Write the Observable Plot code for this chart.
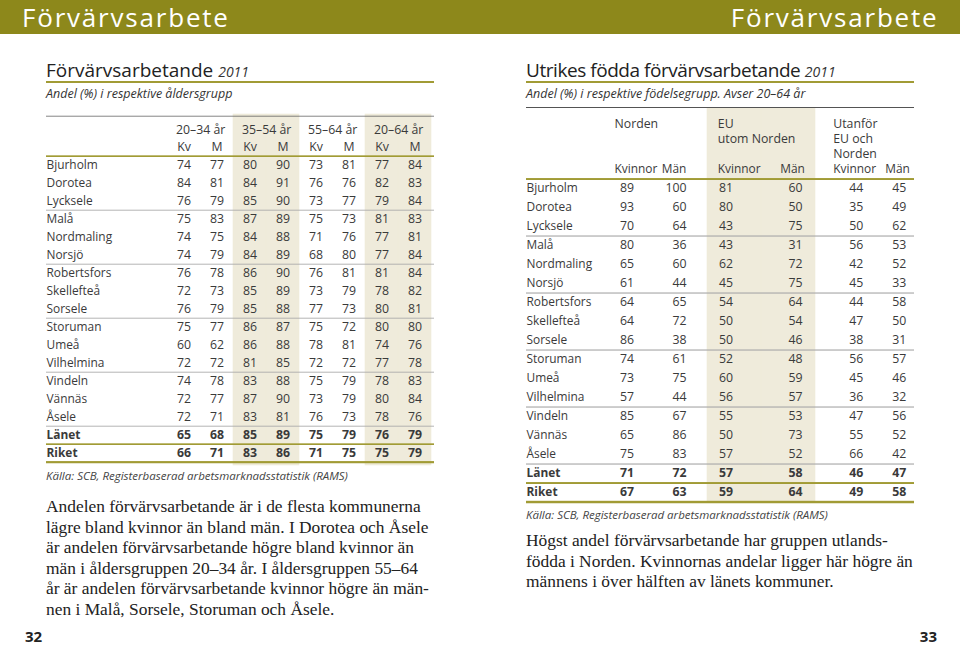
<!DOCTYPE html>
<html lang="sv">
<head>
<meta charset="utf-8">
<script src="https://cdn.jsdelivr.net/npm/d3@7"></script>
<script src="https://cdn.jsdelivr.net/npm/@observablehq/plot@0.6"></script>
<style>
html,body{margin:0;padding:0;background:#fff;}
#page{position:relative;width:960px;height:645px;overflow:hidden;font-family:"Open Sans",sans-serif;color:#333;}
.abs{position:absolute;white-space:nowrap;}
#band{left:0;top:0;width:960px;height:34px;background:#8d881b;}
.bandtitle{color:#fff;font-size:26px;letter-spacing:1.8px;line-height:30px;top:1.5px;}
.title{font-size:19px;color:#222;top:56.5px;line-height:normal;}
.title i{font-size:14px;color:#333;letter-spacing:0;}
.rule{height:2px;background:#a19b35;top:81px;}
.sub{font-style:italic;font-size:12.5px;top:84.5px;color:#333;line-height:normal;}
.src{font-style:italic;font-size:11.5px;color:#444;line-height:normal;}
.para{font-family:"Liberation Serif",serif;font-size:17.4px;line-height:20.5px;color:#222;}
.pnum{font-weight:bold;font-size:15px;color:#222;line-height:normal;top:626px;}
</style>
</head>
<body>
<div id="page">
  <div id="band" class="abs"></div>
  <div class="abs bandtitle" style="left:22px">Förvärvsarbete</div>
  <div class="abs bandtitle" style="right:21.5px">Förvärvsarbete</div>

  <div class="abs title" style="left:46px">Förvärvsarbetande <i>2011</i></div>
  <div class="abs rule" style="left:46px;width:388px"></div>
  <div class="abs sub" style="left:46px">Andel (%) i respektive åldersgrupp</div>

  <div class="abs title" style="left:526px;letter-spacing:-0.45px">Utrikes födda förvärvsarbetande <i>2011</i></div>
  <div class="abs rule" style="left:526px;width:388px"></div>
  <div class="abs sub" style="left:526px">Andel (%) i respektive födelsegrupp. Avser 20–64 år</div>

  <div id="tblL" class="abs" style="left:46px;top:105px"></div>
  <div id="tblR" class="abs" style="left:526px;top:100px"></div>

  <div class="abs src" style="left:46px;top:467.5px">Källa: SCB, Registerbaserad arbetsmarknadsstatistik (RAMS)</div>
  <div class="abs src" style="left:526px;top:506.5px">Källa: SCB, Registerbaserad arbetsmarknadsstatistik (RAMS)</div>

  <div class="abs para" style="left:46px;top:496px">Andelen förvärvsarbetande är i de flesta kommunerna<br>lägre bland kvinnor än bland män. I Dorotea och Åsele<br>är andelen förvärvsarbetande högre bland kvinnor än<br>män i åldersgruppen 20–34 år. I åldersgruppen 55–64<br>år är andelen förvärvsarbetande kvinnor högre än män-<br>nen i Malå, Sorsele, Storuman och Åsele.</div>
  <div class="abs para" style="left:526px;top:530px">Högst andel förvärvsarbetande har gruppen utlands-<br>födda i Norden. Kvinnornas andelar ligger här högre än<br>männens i över hälften av länets kommuner.</div>

  <div class="abs pnum" style="left:25px">32</div>
  <div class="abs pnum" style="right:23px">33</div>
</div>
<script>
// ---------- data ----------
const kommuner = ["Bjurholm","Dorotea","Lycksele","Malå","Nordmaling","Norsjö","Robertsfors","Skellefteå","Sorsele","Storuman","Umeå","Vilhelmina","Vindeln","Vännäs","Åsele","Länet","Riket"];
const totalRows = ["Länet","Riket"];
const separatorRows = ["Lycksele","Norsjö","Sorsele","Vilhelmina","Åsele"];

// Left table: Förvärvsarbetande 2011
const ageGroups = ["20–34 år","35–54 år","55–64 år","20–64 år"];
const ageSexLabels = ["Kv","M"];
const age2034Kv = [74,84,76,75,74,74,76,72,76,75,60,72,74,72,72,65,66];
const age2034M  = [77,81,79,83,75,79,78,73,79,77,62,72,78,77,71,68,71];
const age3554Kv = [80,84,85,87,84,84,86,85,85,86,86,81,83,87,83,85,83];
const age3554M  = [90,91,90,89,88,89,90,89,88,87,88,85,88,90,81,89,86];
const age5564Kv = [73,76,73,75,71,68,76,73,77,75,78,72,75,73,76,75,71];
const age5564M  = [81,76,77,73,76,80,81,79,73,72,81,72,79,79,73,79,75];
const age2064Kv = [77,82,79,81,77,77,81,78,80,80,74,77,78,80,78,76,75];
const age2064M  = [84,83,84,83,81,84,84,82,81,80,76,78,83,84,76,79,79];
const shadedAgeGroups = ["35–54 år","20–64 år"];

// Right table: Utrikes födda förvärvsarbetande 2011
const birthGroups = ["Norden","EU","Utanför"];
const birthGroupLabels = ["Norden","EU\nutom Norden","Utanför\nEU och\nNorden"];
const birthSexLabels = ["Kvinnor","Män"];
const nordenKv  = [89,93,70,80,65,61,64,64,86,74,73,57,85,65,75,71,67];
const nordenM   = [100,60,64,36,60,44,65,72,38,61,75,44,67,86,83,72,63];
const euKv      = [81,80,43,43,62,45,54,50,50,52,60,56,55,50,57,57,59];
const euM       = [60,50,75,31,72,75,64,54,46,48,59,57,53,73,52,58,64];
const utanforKv = [44,35,50,56,42,45,44,47,38,56,45,36,47,55,66,46,49];
const utanforM  = [45,49,62,53,52,33,58,50,31,57,46,32,56,52,42,47,58];
const shadedBirthGroups = ["EU"];

// ---------- style ----------
const SHADE = "#efebdb", OLIVE = "#a19b35", GREY = "#a9a9a9", DARK = "#4a4a4a", INK = "#3a3a3a";
const FONT = "Open Sans";
const FS = 11.9;

function rowRule(rows, bw, color, t) {
  return Plot.cell(rows, {y: d => d, fill: color, insetTop: bw - t / 2, insetBottom: -t / 2});
}

// ---------- left table ----------
{
  const cols = ageGroups.flatMap(g => ageSexLabels.map(s => `${g}|${s}`));
  const series = [age2034Kv, age2034M, age3554Kv, age3554M, age5564Kv, age5564M, age2064Kv, age2064M];
  const values = kommuner.flatMap((k, i) => cols.map((c, j) => ({kommun: k, col: c, value: series[j][i]})));
  const shaded = cols.filter(c => shadedAgeGroups.includes(c.split("|")[0]));
  const yDomain = ["h1", "h2", ...kommuner];
  const H = 363, MT = 11.7, MB = 3;
  const bw = (H - MT - MB) / yDomain.length;
  const xr = [120.3, 386.6];
  const bx = (xr[1] - xr[0]) / cols.length;
  const chart = Plot.plot({
    width: 388, height: H, marginTop: MT, marginBottom: MB, marginLeft: 0, marginRight: 0,
    x: {domain: cols, range: xr, padding: 0, axis: null},
    y: {domain: yDomain, padding: 0, axis: null},
    style: {fontFamily: FONT, fontSize: FS + "px", color: INK, background: "transparent", overflow: "visible"},
    marks: [
      Plot.cell(shaded, {x: d => d, fill: SHADE, stroke: SHADE, strokeWidth: 0.6, insetTop: -2.7}),
      Plot.cell(["h1"], {y: d => d, fill: DARK, insetTop: -4.2, insetBottom: bw + 3.2}),
      rowRule(["h2"], bw, OLIVE, 2),
      rowRule(separatorRows, bw, GREY, 1.2),
      rowRule(["Länet"], bw, OLIVE, 2),
      rowRule(["Riket"], bw, OLIVE, 2.5),
      Plot.text(ageGroups, {x: g => `${g}|Kv`, y: () => "h1", text: d => d, dx: bx / 2, dy: 1, fontSize: FS + 0.4}),
      Plot.text(cols, {x: d => d, y: () => "h2", text: d => d.split("|")[1], fontSize: FS + 0.4}),
      Plot.text(kommuner.filter(k => !totalRows.includes(k)), {y: d => d, text: d => d, frameAnchor: "left", textAnchor: "start", fontSize: FS}),
      Plot.text(totalRows, {y: d => d, text: d => d, frameAnchor: "left", textAnchor: "start", fontSize: FS, fontWeight: "bold"}),
      Plot.text(values.filter(d => !totalRows.includes(d.kommun)), {x: "col", y: "kommun", text: "value", fontSize: FS + 0.4}),
      Plot.text(values.filter(d => totalRows.includes(d.kommun)), {x: "col", y: "kommun", text: "value", fontSize: FS + 0.4, fontWeight: "bold"})
    ]
  });
  document.getElementById("tblL").appendChild(chart);
}

// ---------- right table ----------
{
  const cols = birthGroups.flatMap(g => birthSexLabels.map(s => `${g}|${s}`));
  const series = [nordenKv, nordenM, euKv, euM, utanforKv, utanforM];
  const values = kommuner.flatMap((k, i) => cols.map((c, j) => ({kommun: k, col: c, value: series[j][i]})));
  const shaded = cols.filter(c => shadedBirthGroups.includes(c.split("|")[0]));
  const yDomain = ["hdr", ...kommuner];
  const H = 406, MT = 59.5, MB = 3.5;
  const bw = (H - MT - MB) / yDomain.length;
  // per-column fine offsets (px) to follow the uneven column layout of the printed table
  const numEdge = [7.5, 6, -1.4, 14, 20.7, 9.7];     // right edge of numbers relative to band centre
  const groupStart = [-12, -16.7, -9.3];             // left edge of group / "Kvinnor" labels
  const manShift = [-6.5, 4, 1];                     // centre of "Män" labels
  const marks = [
    Plot.cell(shaded, {x: d => d, fill: SHADE, stroke: SHADE, strokeWidth: 0.6, insetTop: -51.5}),
    Plot.cell(["hdr"], {y: d => d, fill: DARK, insetTop: -53, insetBottom: bw + 52}),
    rowRule(["hdr"], bw, OLIVE, 2),
    rowRule(separatorRows, bw, GREY, 1.2),
    rowRule(["Länet"], bw, OLIVE, 2),
    rowRule(["Riket"], bw, OLIVE, 2.5),
    Plot.text(kommuner.filter(k => !totalRows.includes(k)), {y: d => d, text: d => d, frameAnchor: "left", textAnchor: "start", dy: -1, fontSize: FS}),
    Plot.text(totalRows, {y: d => d, text: d => d, frameAnchor: "left", textAnchor: "start", dy: -1, fontSize: FS, fontWeight: "bold"})
  ];
  birthGroups.forEach((g, gi) => {
    marks.push(
      Plot.text([birthGroupLabels[gi]], {x: () => `${g}|Kvinnor`, y: () => "hdr", text: d => d, textAnchor: "start", lineAnchor: "top", lineHeight: 1.22, dx: groupStart[gi], dy: -52.5, fontSize: FS + 0.4}),
      Plot.text(["Kvinnor"], {x: () => `${g}|Kvinnor`, y: () => "hdr", text: d => d, textAnchor: "start", dx: groupStart[gi], dy: -1, fontSize: FS}),
      Plot.text(["Män"], {x: () => `${g}|Män`, y: () => "hdr", text: d => d, dx: manShift[gi], dy: -1, fontSize: FS})
    );
  });
  cols.forEach((c, j) => {
    const colVals = values.filter(d => d.col === c);
    marks.push(
      Plot.text(colVals.filter(d => !totalRows.includes(d.kommun)), {x: "col", y: "kommun", text: "value", textAnchor: "end", dx: numEdge[j], dy: -1, fontSize: FS + 0.4}),
      Plot.text(colVals.filter(d => totalRows.includes(d.kommun)), {x: "col", y: "kommun", text: "value", textAnchor: "end", dx: numEdge[j], dy: -1, fontSize: FS + 0.4, fontWeight: "bold"})
    );
  });
  const chart = Plot.plot({
    width: 400, height: H, marginTop: MT, marginBottom: MB, marginLeft: 0, marginRight: 12,
    x: {domain: cols, range: [71.3, 398], padding: 0, axis: null},
    y: {domain: yDomain, padding: 0, axis: null},
    style: {fontFamily: FONT, fontSize: FS + "px", color: INK, background: "transparent", overflow: "visible"},
    marks
  });
  document.getElementById("tblR").appendChild(chart);
}
</script>
</body>
</html>
